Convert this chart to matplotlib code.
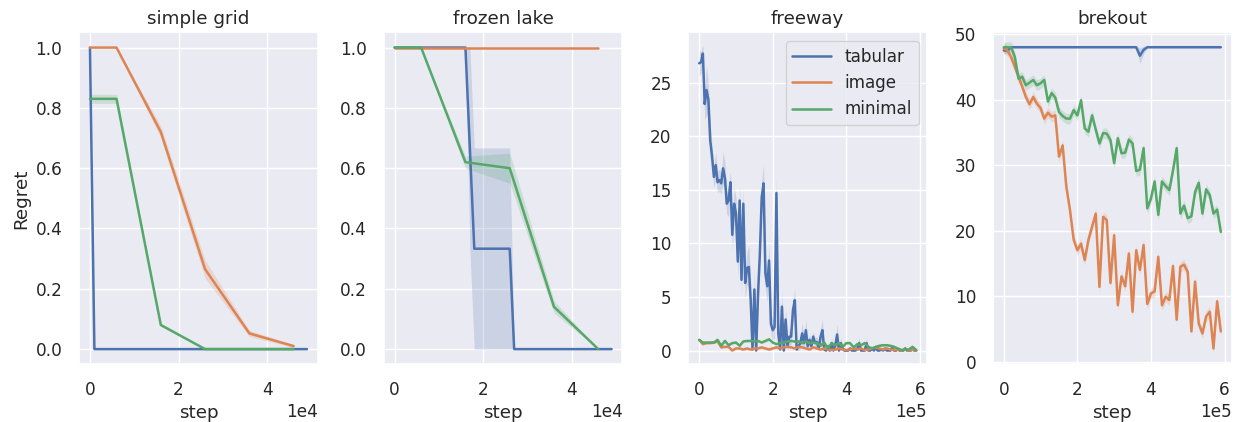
import numpy as np
import matplotlib
matplotlib.use("Agg")
import matplotlib.pyplot as plt
import seaborn as sns
from matplotlib.ticker import MultipleLocator

sns.set_theme(style="darkgrid", font_scale=1.1)
plt.rcParams.update({
    "xtick.labelsize": 12.2,
    "ytick.labelsize": 12.2,
    "axes.titlesize": 13.2,
    "axes.labelsize": 13.2,
    "legend.fontsize": 12.1,
    "legend.handlelength": 2.3,
})

methods = ["tabular", "image", "minimal"]
colors = ["#4c72b0", "#dd8452", "#55a868"]

# simple grid (steps in units of 1, labels scaled 1e4)
grid_tab_steps = list(range(0, 50000, 1000))
grid_tab = [1.0] + [0.0] * 49
grid_steps = [0, 6000, 16000, 26000, 36000, 46000]
grid_image = [1.0, 1.0, 0.72, 0.265, 0.052, 0.01]
grid_image_err = [0.0, 0.0, 0.02, 0.03, 0.01, 0.005]
grid_minimal = [0.83, 0.83, 0.08, 0.0, 0.0, 0.0]
grid_minimal_err = [0.015, 0.015, 0.005, 0.0, 0.0, 0.0]

# frozen lake
lake_tab_steps = list(range(0, 50000, 1000))
lake_tab = [1.0] * 17 + [0.667] + [0.333] * 9 + [0.0] * 23
lake_tab_lo = [1.0] * 17 + [0.333] + [0.0] * 9 + [0.0] * 23
lake_tab_hi = [1.0] * 17 + [1.0] + [0.667] * 9 + [0.0] * 23
lake_steps = [0, 6000, 16000, 26000, 36000, 46000]
lake_image = [1.0, 1.0, 1.0, 1.0, 1.0, 1.0]
lake_minimal = [1.0, 1.0, 0.62, 0.60, 0.14, 0.0]
lake_minimal_lo = [1.0, 1.0, 0.60, 0.55, 0.12, 0.0]
lake_minimal_hi = [1.0, 1.0, 0.64, 0.65, 0.16, 0.0]

# freeway
free_tab_steps = list(range(0, 595000, 5000))
free_tab = [
    26.8, 26.9, 27.7, 23.0, 24.3, 23.4, 19.6, 18.1, 16.2, 17.3,
    15.7, 15.9, 15.6, 17.0, 16.1, 13.7, 14.0, 15.7, 10.8, 13.7,
    12.8, 8.3, 14.0, 6.6, 13.7, 6.3, 7.7, 7.8, 4.7, 0.1,
    5.7, 0.0, 5.3, 9.1, 14.3, 15.6, 7.2, 6.0, 8.4, 2.5,
    1.9, 2.2, 14.7, 1.6, 0.1, 4.1, 0.0, 2.9, 0.4, 1.3,
    1.3, 3.8, 4.7, 0.1, 0.4, 0.7, 1.6, 0.7, 1.9, 0.4,
    1.0, 0.4, 1.3, 0.7, 0.8, 0.2, 1.3, 1.9, 0.1, 0.0,
    0.4, 0.0, 0.7, 0.0, 0.5, 1.5, 0.0, 0.7, 0.2, 0.0,
    0.0, 0.0, 0.2, 0.0, 0.0, 0.0, 0.2, 0.7, 0.0, 0.0,
    0.0, 0.7, 0.0, 0.0, 0.2, 0.0, 0.3, 0.0, 0.0, 0.1,
    0.0, 0.2, 0.0, 0.0, 0.0, 0.3, 0.0, 0.0, 0.1, 0.0,
    0.0, 0.0, 0.2, 0.0, 0.0, 0.0, 0.1, 0.0, 0.0,
]
free_tab_err = [
    1.2, 1.0, 0.8, 1.5, 2.3, 1.5, 1.5, 1.0, 1.0, 1.2,
    1.0, 1.0, 1.0, 1.5, 1.5, 1.0, 1.5, 1.0, 1.5, 1.5,
    1.5, 1.5, 1.5, 1.5, 1.5, 1.5, 1.5, 2.0, 2.0, 0.5,
    2.0, 0.3, 1.5, 1.5, 1.5, 1.8, 1.5, 1.5, 1.5, 1.0,
    1.0, 1.0, 1.5, 1.0, 0.3, 1.5, 0.3, 1.0, 0.5, 0.8,
    0.8, 1.0, 1.0, 0.3, 0.5, 0.5, 1.0, 0.5, 1.0, 0.5,
    0.5, 0.3, 0.5, 0.5, 0.5, 0.3, 0.8, 1.0, 0.2, 0.2,
    0.3, 0.2, 0.5, 0.2, 0.4, 1.0, 0.2, 0.5, 0.2, 0.2,
    0.2, 0.2, 0.2, 0.2, 0.2, 0.2, 0.2, 0.5, 0.2, 0.2,
    0.2, 0.5, 0.2, 0.2, 0.2, 0.2, 0.2, 0.2, 0.2, 0.2,
    0.2, 0.2, 0.2, 0.2, 0.2, 0.2, 0.2, 0.2, 0.2, 0.2,
    0.2, 0.2, 0.2, 0.2, 0.2, 0.2, 0.2, 0.2, 0.2,
]
free_steps = list(range(0, 600000, 10000))
free_image = [
    1.0, 0.6, 0.7, 0.7, 0.75, 0.85, 0.3, 0.35, 0.35, 0.0,
    0.2, 0.2, 0.1, 0.2, 0.1, 0.2, 0.2, 0.3, 0.2, 0.1,
    0.2, 0.3, 0.2, 0.3, 0.35, 0.3, 0.2, 0.35, 0.3, 0.2,
    0.1, 0.3, 0.2, 0.1, 0.2, 0.1, 0.05, 0.1, 0.2, 0.1,
    0.05, 0.1, 0.2, 0.1, 0.2, 0.05, 0.1, 0.2, 0.3, 0.2,
    0.1, 0.2, 0.1, 0.05, 0.1, 0.0, 0.1, 0.0, 0.1, 0.0,
]
free_minimal = [
    1.0, 0.75, 0.75, 0.75, 0.75, 1.0, 0.45, 0.9, 0.5, 0.7,
    0.75, 0.45, 0.85, 0.9, 0.9, 0.85, 0.9, 0.75, 0.9, 1.05,
    0.75, 0.6, 0.7, 0.75, 0.85, 0.9, 0.85, 0.85, 0.7, 0.85,
    0.7, 0.75, 0.7, 0.45, 0.75, 0.2, 0.7, 0.5, 0.7, 0.35,
    0.7, 0.7, 0.3, 0.6, 0.5, 0.7, 0.35, 0.2, 0.35, 0.45,
    0.5, 0.5, 0.45, 0.35, 0.2, 0.05, 0.1, 0.1, 0.35, 0.05,
]
free_err = 0.1

# breakout
brk_steps = list(range(0, 600000, 10000))
brk_tab = [47.5, 47.5] + [48.0] * 35 + [46.7, 47.6] + [48.0] * 21
brk_tab_err = [0.5, 0.5] + [0.1] * 35 + [1.2, 0.6] + [0.1] * 21
brk_image = [
    47.8, 47.5, 46.5, 45.0, 43.5, 42.0, 40.4, 39.3, 40.4, 39.4,
    38.7, 37.1, 38.0, 37.4, 37.6, 31.3, 33.0, 26.7, 23.1, 18.6,
    17.0, 18.0, 15.5, 18.6, 20.6, 22.6, 11.4, 22.1, 21.6, 12.0,
    19.3, 8.6, 13.0, 11.5, 16.5, 7.6, 17.0, 14.0, 17.8, 8.8,
    10.4, 10.7, 16.0, 8.6, 9.9, 9.4, 14.6, 6.4, 14.5, 14.8,
    13.7, 4.6, 12.2, 5.8, 4.3, 6.9, 7.6, 2.0, 9.2, 4.6,
]
brk_minimal = [
    48.0, 48.0, 48.0, 46.5, 43.2, 43.5, 42.2, 42.6, 43.0, 42.2,
    42.5, 43.0, 39.7, 41.0, 40.3, 38.1, 37.5, 37.1, 37.1, 38.4,
    37.6, 39.9, 35.6, 35.1, 37.6, 35.4, 33.3, 34.9, 34.8, 33.8,
    30.3, 34.1, 31.8, 31.9, 33.9, 33.3, 29.1, 29.3, 32.6, 23.4,
    24.9, 27.5, 22.4, 27.5, 26.8, 26.2, 29.2, 32.6, 22.6, 23.8,
    21.9, 22.2, 25.9, 27.3, 22.6, 26.3, 25.4, 22.6, 23.2, 19.8,
]
brk_err = 0.8


def band(ax, x, y, lo, hi, c):
    ax.plot(x, y, color=c, lw=1.8)
    ax.fill_between(x, lo, hi, color=c, alpha=0.2, lw=0)


fig, axes = plt.subplots(1, 4, figsize=(12.36, 4.22), dpi=100)
fig.subplots_adjust(left=0.064, right=0.9965, top=0.923, bottom=0.137, wspace=0.276)

# simple grid
ax = axes[0]
band(ax, grid_tab_steps, grid_tab, grid_tab, grid_tab, colors[0])
gi, ge = np.array(grid_image), np.array(grid_image_err)
band(ax, grid_steps, gi, gi - ge, gi + ge, colors[1])
gm, gme = np.array(grid_minimal), np.array(grid_minimal_err)
band(ax, grid_steps, gm, gm - gme, gm + gme, colors[2])
ax.set_title("simple grid")
ax.set_ylabel("Regret")
ax.xaxis.set_major_locator(MultipleLocator(20000))

# frozen lake
ax = axes[1]
band(ax, lake_tab_steps, lake_tab, lake_tab_lo, lake_tab_hi, colors[0])
band(ax, lake_steps, lake_image, lake_image, lake_image, colors[1])
band(ax, lake_steps, lake_minimal, lake_minimal_lo, lake_minimal_hi, colors[2])
ax.set_title("frozen lake")
ax.xaxis.set_major_locator(MultipleLocator(20000))

# freeway
ax = axes[2]
ft, fte = np.array(free_tab), np.array(free_tab_err)
band(ax, free_tab_steps, ft, np.maximum(ft - fte, 0), ft + fte, colors[0])
fi = np.array(free_image)
band(ax, free_steps, fi, np.maximum(fi - free_err, 0), fi + free_err, colors[1])
fm = np.array(free_minimal)
band(ax, free_steps, fm, np.maximum(fm - free_err, 0), fm + free_err, colors[2])
ax.set_title("freeway")
ax.set_ylim(-1.27, 29.67)
ax.xaxis.set_major_locator(MultipleLocator(200000))
ax.legend(handles=ax.lines, labels=methods, loc="upper right")

# breakout
ax = axes[3]
bt, bte = np.array(brk_tab), np.array(brk_tab_err)
band(ax, brk_steps, bt, bt - bte, bt + bte, colors[0])
bi = np.array(brk_image)
band(ax, brk_steps, bi, bi - brk_err, bi + brk_err, colors[1])
bm = np.array(brk_minimal)
band(ax, brk_steps, bm, bm - brk_err, bm + brk_err, colors[2])
ax.set_title("brekout")
ax.set_ylim(-0.4, 50.25)
ax.xaxis.set_major_locator(MultipleLocator(200000))

for ax in axes:
    ax.set_xlabel("step")
    ax.ticklabel_format(axis="x", style="sci", scilimits=(0, 0))
    ax.tick_params(length=0, pad=12)

fig.savefig("out.png", dpi=100)
